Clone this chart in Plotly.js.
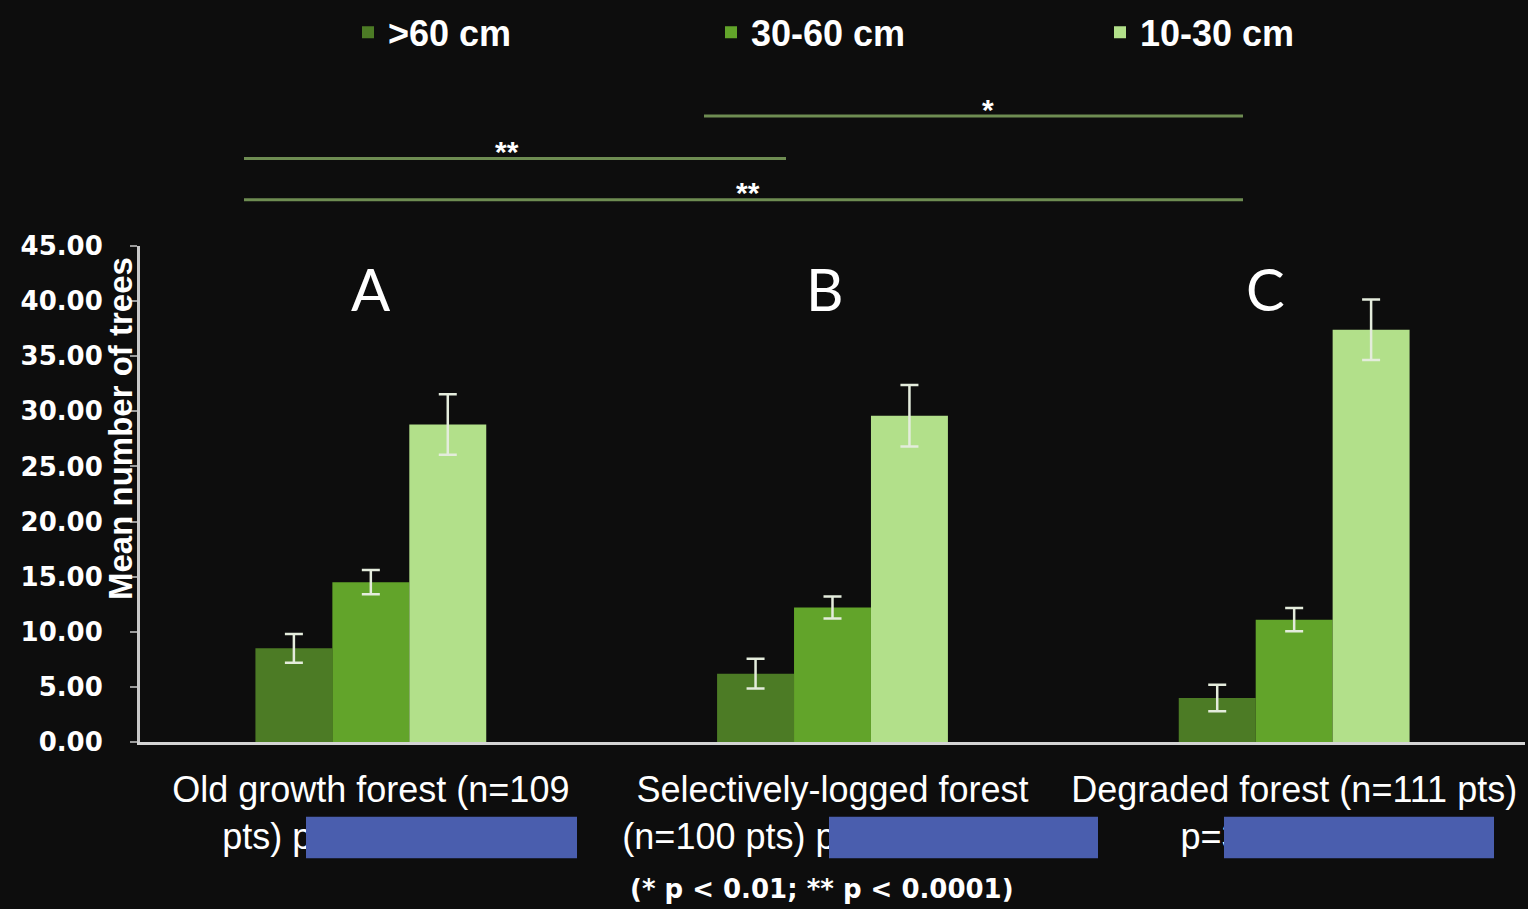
<!DOCTYPE html>
<html>
<head>
<meta charset="utf-8">
<script src="https://cdn.plot.ly/plotly-3.0.1.min.js"></script>
<style>
  html, body { margin: 0; padding: 0; background: #0d0d0d; }
  #chart { width: 1528px; height: 909px; }
</style>
</head>
<body>
<div id="chart"></div>
<script>
// ---- data ----
const categories = [
  "Old growth forest (n=109<br>pts) p=2.1557E-05",
  "Selectively-logged forest<br>(n=100 pts) p=2.1557E-05",
  "Degraded forest (n=111 pts)<br>p=3.0045E-07"
];
const seriesNames = [">60 cm", "30-60 cm", "10-30 cm"];
const over60 = [8.5, 6.2, 4.0];
const over60Err = [1.3, 1.35, 1.2];
const mid30to60 = [14.5, 12.2, 11.1];
const mid30to60Err = [1.1, 1.0, 1.05];
const small10to30 = [28.8, 29.6, 37.4];
const small10to30Err = [2.75, 2.8, 2.75];
const groupLetters = ["A", "B", "C"];
const yTicks = [0, 5, 10, 15, 20, 25, 30, 35, 40, 45];
const sigLabels = ["*", "**", "**"];
const yTitle = "Mean number of trees";
const footNote = "(* p < 0.01; ** p < 0.0001)";

// ---- styles ----
const colors = ["#4c7b25", "#62a42a", "#b2e08a"];
const errStyle = { type: "data", visible: true, color: "#e4ecdc", thickness: 2.5, width: 9 };

const values = [over60, mid30to60, small10to30];
const errs = [over60Err, mid30to60Err, small10to30Err];
const legendIds = ["legend", "legend2", "legend3"];

const traces = values.map((v, i) => ({
  type: "bar",
  name: seriesNames[i],
  x: categories,
  y: v,
  marker: { color: colors[i] },
  error_y: Object.assign({ array: errs[i] }, errStyle),
  legend: legendIds[i],
  hoverinfo: "none"
}));

// pixel -> paper helpers (plot area: x 140..1525, y 238..742)
const L = 140, R = 3, T = 238, B = 909 - 742;
const PW = 1528 - L - R, PH = 909 - T - B;
const px = p => (p - L) / PW;
const py = p => (742 - p) / PH;

const lineColor = "#6e8c52";
const sigLines = [
  { x0: 704, x1: 1243, y: 106, tx: 988 },
  { x0: 244, x1: 786, y: 149, tx: 507 },
  { x0: 244, x1: 1243, y: 191, tx: 748 }
];

const shapes = sigLines.map(s => ({
  type: "line", xref: "paper", yref: "paper",
  x0: px(s.x0), x1: px(s.x1), y0: py(s.y), y1: py(s.y),
  line: { color: lineColor, width: 3 }
}));

// redaction boxes over the p-values
const boxes = [[306, 577], [829, 1098], [1224, 1494]];
boxes.forEach(b => shapes.push({
  type: "rect", xref: "paper", yref: "paper", layer: "above",
  x0: px(b[0]), x1: px(b[1]), y0: py(860), y1: py(818),
  fillcolor: "#4a5eae", line: { width: 0 }
}));

const annotations = [];
sigLines.forEach((s, i) => annotations.push({
  xref: "paper", yref: "paper", x: px(s.tx), y: py(s.y - 7),
  text: sigLabels[i], showarrow: false, xanchor: "center", yanchor: "middle",
  font: { family: "Liberation Sans", size: 30, color: "#ffffff", weight: "bold" }
}));
const letterX = [0, 0.984, 1.937];
groupLetters.forEach((g, i) => annotations.push({
  xref: "x", yref: "y", x: letterX[i], y: 41.1,
  text: g, showarrow: false, xanchor: "center", yanchor: "middle",
  font: { family: "Lato", size: 58, color: "#ffffff" }
}));
annotations.push({
  xref: "paper", yref: "paper", x: px(120), y: py(424),
  text: yTitle, textangle: -90, showarrow: false,
  xanchor: "center", yanchor: "middle",
  font: { family: "Liberation Sans", size: 33, color: "#ffffff", weight: "bold" }
});
annotations.push({
  xref: "paper", yref: "paper", x: px(822), y: py(891),
  text: footNote, showarrow: false, xanchor: "center", yanchor: "middle",
  font: { family: "DejaVu Sans", size: 26, color: "#ffffff", weight: "bold" }
});

const legendFont = { family: "Liberation Sans", size: 36, color: "#ffffff", weight: "bold" };
const legendBase = {
  orientation: "h", yanchor: "middle", xanchor: "left",
  bgcolor: "rgba(0,0,0,0)", font: legendFont, borderwidth: 0
};
const legendXs = [348, 711, 1100];
const legendY = 21;

const layout = {
  width: 1528, height: 909,
  paper_bgcolor: "#0d0d0d", plot_bgcolor: "#0d0d0d",
  margin: { l: L, r: R, t: T, b: B, pad: 0 },
  barmode: "group", bargap: 0.5, bargroupgap: 0,
  showlegend: true,
  legend: Object.assign({ x: px(legendXs[0]), y: py(legendY) }, legendBase),
  legend2: Object.assign({ x: px(legendXs[1]), y: py(legendY) }, legendBase),
  legend3: Object.assign({ x: px(legendXs[2]), y: py(legendY) }, legendBase),
  xaxis: {
    type: "category",
    showline: true, linecolor: "#d4d4d4", linewidth: 3,
    ticks: "", showgrid: false, zeroline: false,
    tickfont: { family: "Liberation Sans", size: 36, color: "#ffffff" },
    ticklabelstandoff: 14
  },
  yaxis: {
    range: [0, 45], tickvals: yTicks, tickformat: ".2f",
    showline: true, linecolor: "#c8c8c8", linewidth: 3,
    ticks: "outside", ticklen: 7, tickwidth: 2, tickcolor: "#9a9a9a",
    showgrid: false, zeroline: false,
    tickfont: { family: "DejaVu Sans", size: 26, color: "#ffffff", weight: "bold" },
    ticklabelstandoff: 22
  },
  shapes: shapes,
  annotations: annotations
};

Plotly.newPlot("chart", traces, layout, { displayModeBar: false, staticPlot: true });
</script>
</body>
</html>
